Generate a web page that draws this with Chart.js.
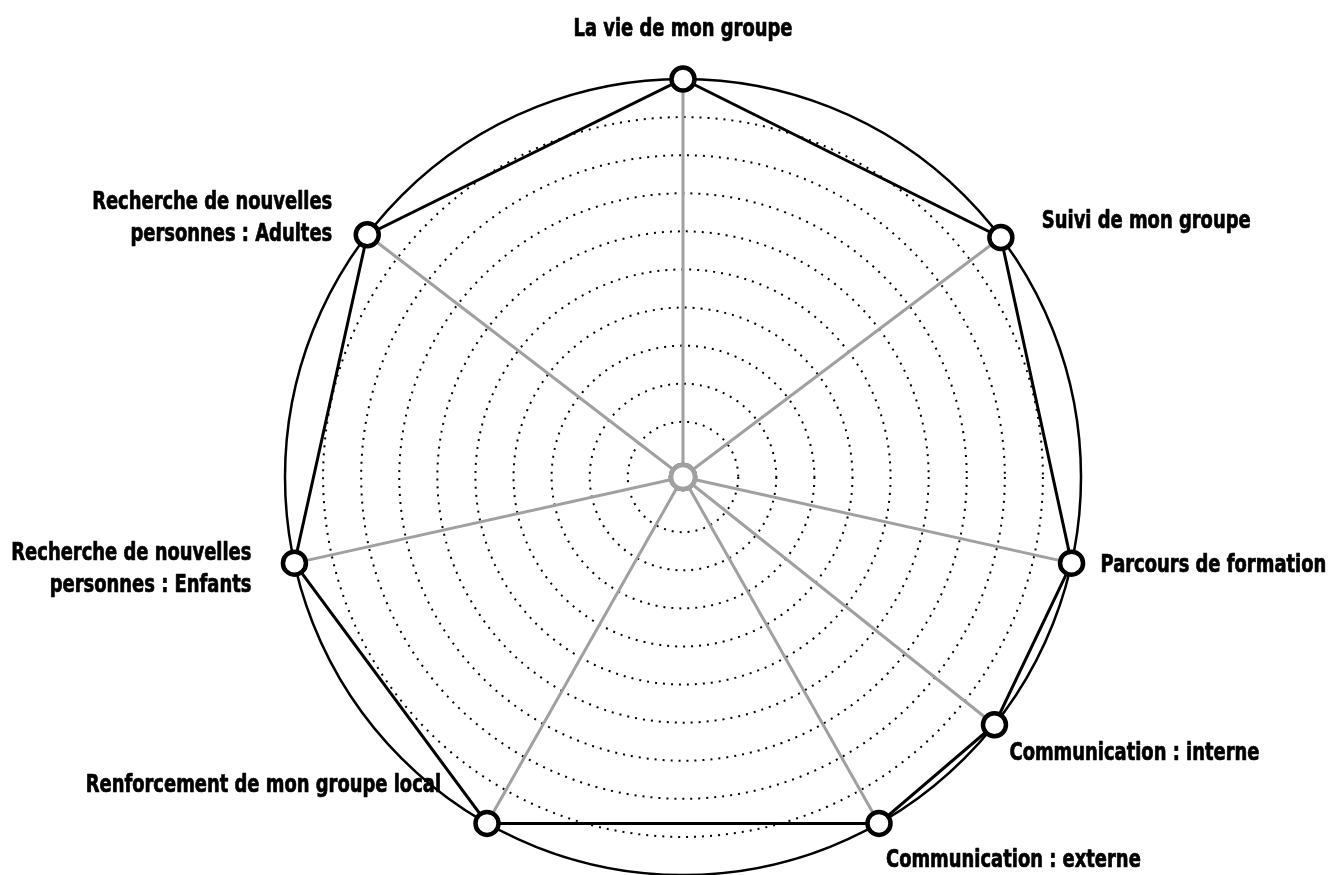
<!DOCTYPE html>
<html>
<head>
<meta charset="utf-8">
<script src="https://cdn.jsdelivr.net/npm/chart.js@4.4.1/dist/chart.umd.min.js"></script>
<style>
    body { margin: 0; background: #fff; }
    canvas { display: block; }
</style>
</head>
<body>
<canvas id="chart" width="1335" height="875"></canvas>
<script>
// catégories, dans l'ordre horaire depuis le haut
const categories = [
    "La vie de mon groupe",
    "Suivi de mon groupe",
    "Parcours de formation",
    "Communication : interne",
    "Communication : externe",
    "Renforcement de mon groupe local",
    ["Recherche de nouvelles", "personnes : Enfants"],
    ["Recherche de nouvelles", "personnes : Adultes"],
];

// angle de chaque axe (degrés, sens horaire depuis le haut)
const categoryAngles = [0, 53, 102.5, 128.5, 150.5, 209.5, 257.5, 307.5];

const scoreValues = [10, 10, 10, 10, 10, 10, 10, 10];
const centreValues = [-0.45, -0.45, -0.45, -0.45, -0.45, -0.45, -0.45, -0.45];

const tickValues = [1, 2, 3, 4, 5, 6, 7, 8, 9, 10];
const scaleMin = -0.45;
const scaleMax = 10;

// position des libellés par rapport au point de l'axe
const labelPlacement = [
    { align: "center", dx: 0, dy: -43 },
    { align: "left", dx: 41, dy: -9 },
    { align: "left", dx: 29, dy: 9 },
    { align: "left", dx: 15, dy: 35 },
    { align: "left", dx: 7, dy: 44 },
    { align: "right", dx: -46, dy: -31 },
    { align: "right", dx: -43, dy: -3 },
    { align: "right", dx: -35, dy: -26 },
];

const LABEL_FONT = "bold 24px 'DejaVu Sans Condensed', 'Liberation Sans Narrow', sans-serif";
const LABEL_SQUEEZE = 0.83;
const LINE_HEIGHT = 32;
const SLOTS_PER_DEG = 2;
const SLOTS = 360 * SLOTS_PER_DEG;

// le radar répartit les axes uniformément : chaque catégorie occupe un créneau d'un demi-degré
const slotOf = categoryAngles.map(a => Math.round(a * SLOTS_PER_DEG));
const slotLabels = new Array(SLOTS).fill("");
const slotScores = new Array(SLOTS).fill(null);
const slotCentre = new Array(SLOTS).fill(null);
categories.forEach((cat, i) => {
    const slot = slotOf[i];
    slotLabels[slot] = Array.isArray(cat) ? cat.join(" ") : cat;
    slotScores[slot] = scoreValues[i];
    slotCentre[slot] = centreValues[i];
});

const labelPlugin = {
    id: "categoryLabels",
    afterDraw(chart) {
        const scale = chart.scales.r;
        const ctx = chart.ctx;
        ctx.save();
        ctx.font = LABEL_FONT;
        ctx.fillStyle = "#000";
        ctx.strokeStyle = "#000";
        ctx.lineWidth = 0.7;
        ctx.lineJoin = "round";
        ctx.textBaseline = "alphabetic";
        categories.forEach((cat, i) => {
            const p = scale.getPointPosition(slotOf[i], scale.drawingArea);
            const place = labelPlacement[i];
            const lines = Array.isArray(cat) ? cat : [cat];
            ctx.textAlign = place.align;
            lines.forEach((line, k) => {
                const w = ctx.measureText(line).width * LABEL_SQUEEZE;
                const x = p.x + place.dx;
                const y = p.y + place.dy + k * LINE_HEIGHT;
                ctx.fillText(line, x, y, w);
                ctx.strokeText(line, x, y, w); // texte un peu plus gras
            });
        });
        ctx.restore();
    }
};

new Chart(document.getElementById("chart"), {
    type: "radar",
    data: {
        labels: slotLabels,
        datasets: [
            {
                data: slotScores,
                spanGaps: true,
                fill: false,
                borderColor: "#000",
                borderWidth: 3,
                tension: 0,
                pointRadius: 11.5,
                pointBorderWidth: 4.5,
                pointBorderColor: "#000",
                pointBackgroundColor: "#fff",
            },
            {
                data: slotCentre,
                spanGaps: true,
                fill: false,
                borderColor: "#a0a0a0",
                borderWidth: 0,
                pointRadius: 12,
                pointBorderWidth: 4.5,
                pointBorderColor: "#a0a0a0",
                pointBackgroundColor: "#fff",
            },
        ],
    },
    options: {
        responsive: false,
        animation: false,
        events: [],
        layout: {
            padding: { top: 79, bottom: 0, left: 100, right: 69 },
        },
        plugins: {
            legend: { display: false },
            tooltip: { enabled: false },
        },
        scales: {
            r: {
                min: scaleMin,
                max: scaleMax,
                startAngle: 0,
                afterBuildTicks: scale => {
                    scale.ticks = tickValues.map(v => ({ value: v }));
                },
                ticks: { display: false },
                pointLabels: { display: false },
                grid: {
                    circular: true,
                    color: "#000",
                    lineWidth: c => (c.tick && c.tick.value === scaleMax ? 2.5 : 2),
                },
                border: {
                    dash: c => (c.tick && c.tick.value === scaleMax ? [] : [2, 6]),
                },
                angleLines: {
                    color: "#a0a0a0",
                    lineWidth: c => (c.label ? 3 : 0),
                },
            },
        },
    },
    plugins: [labelPlugin],
});
</script>
</body>
</html>
